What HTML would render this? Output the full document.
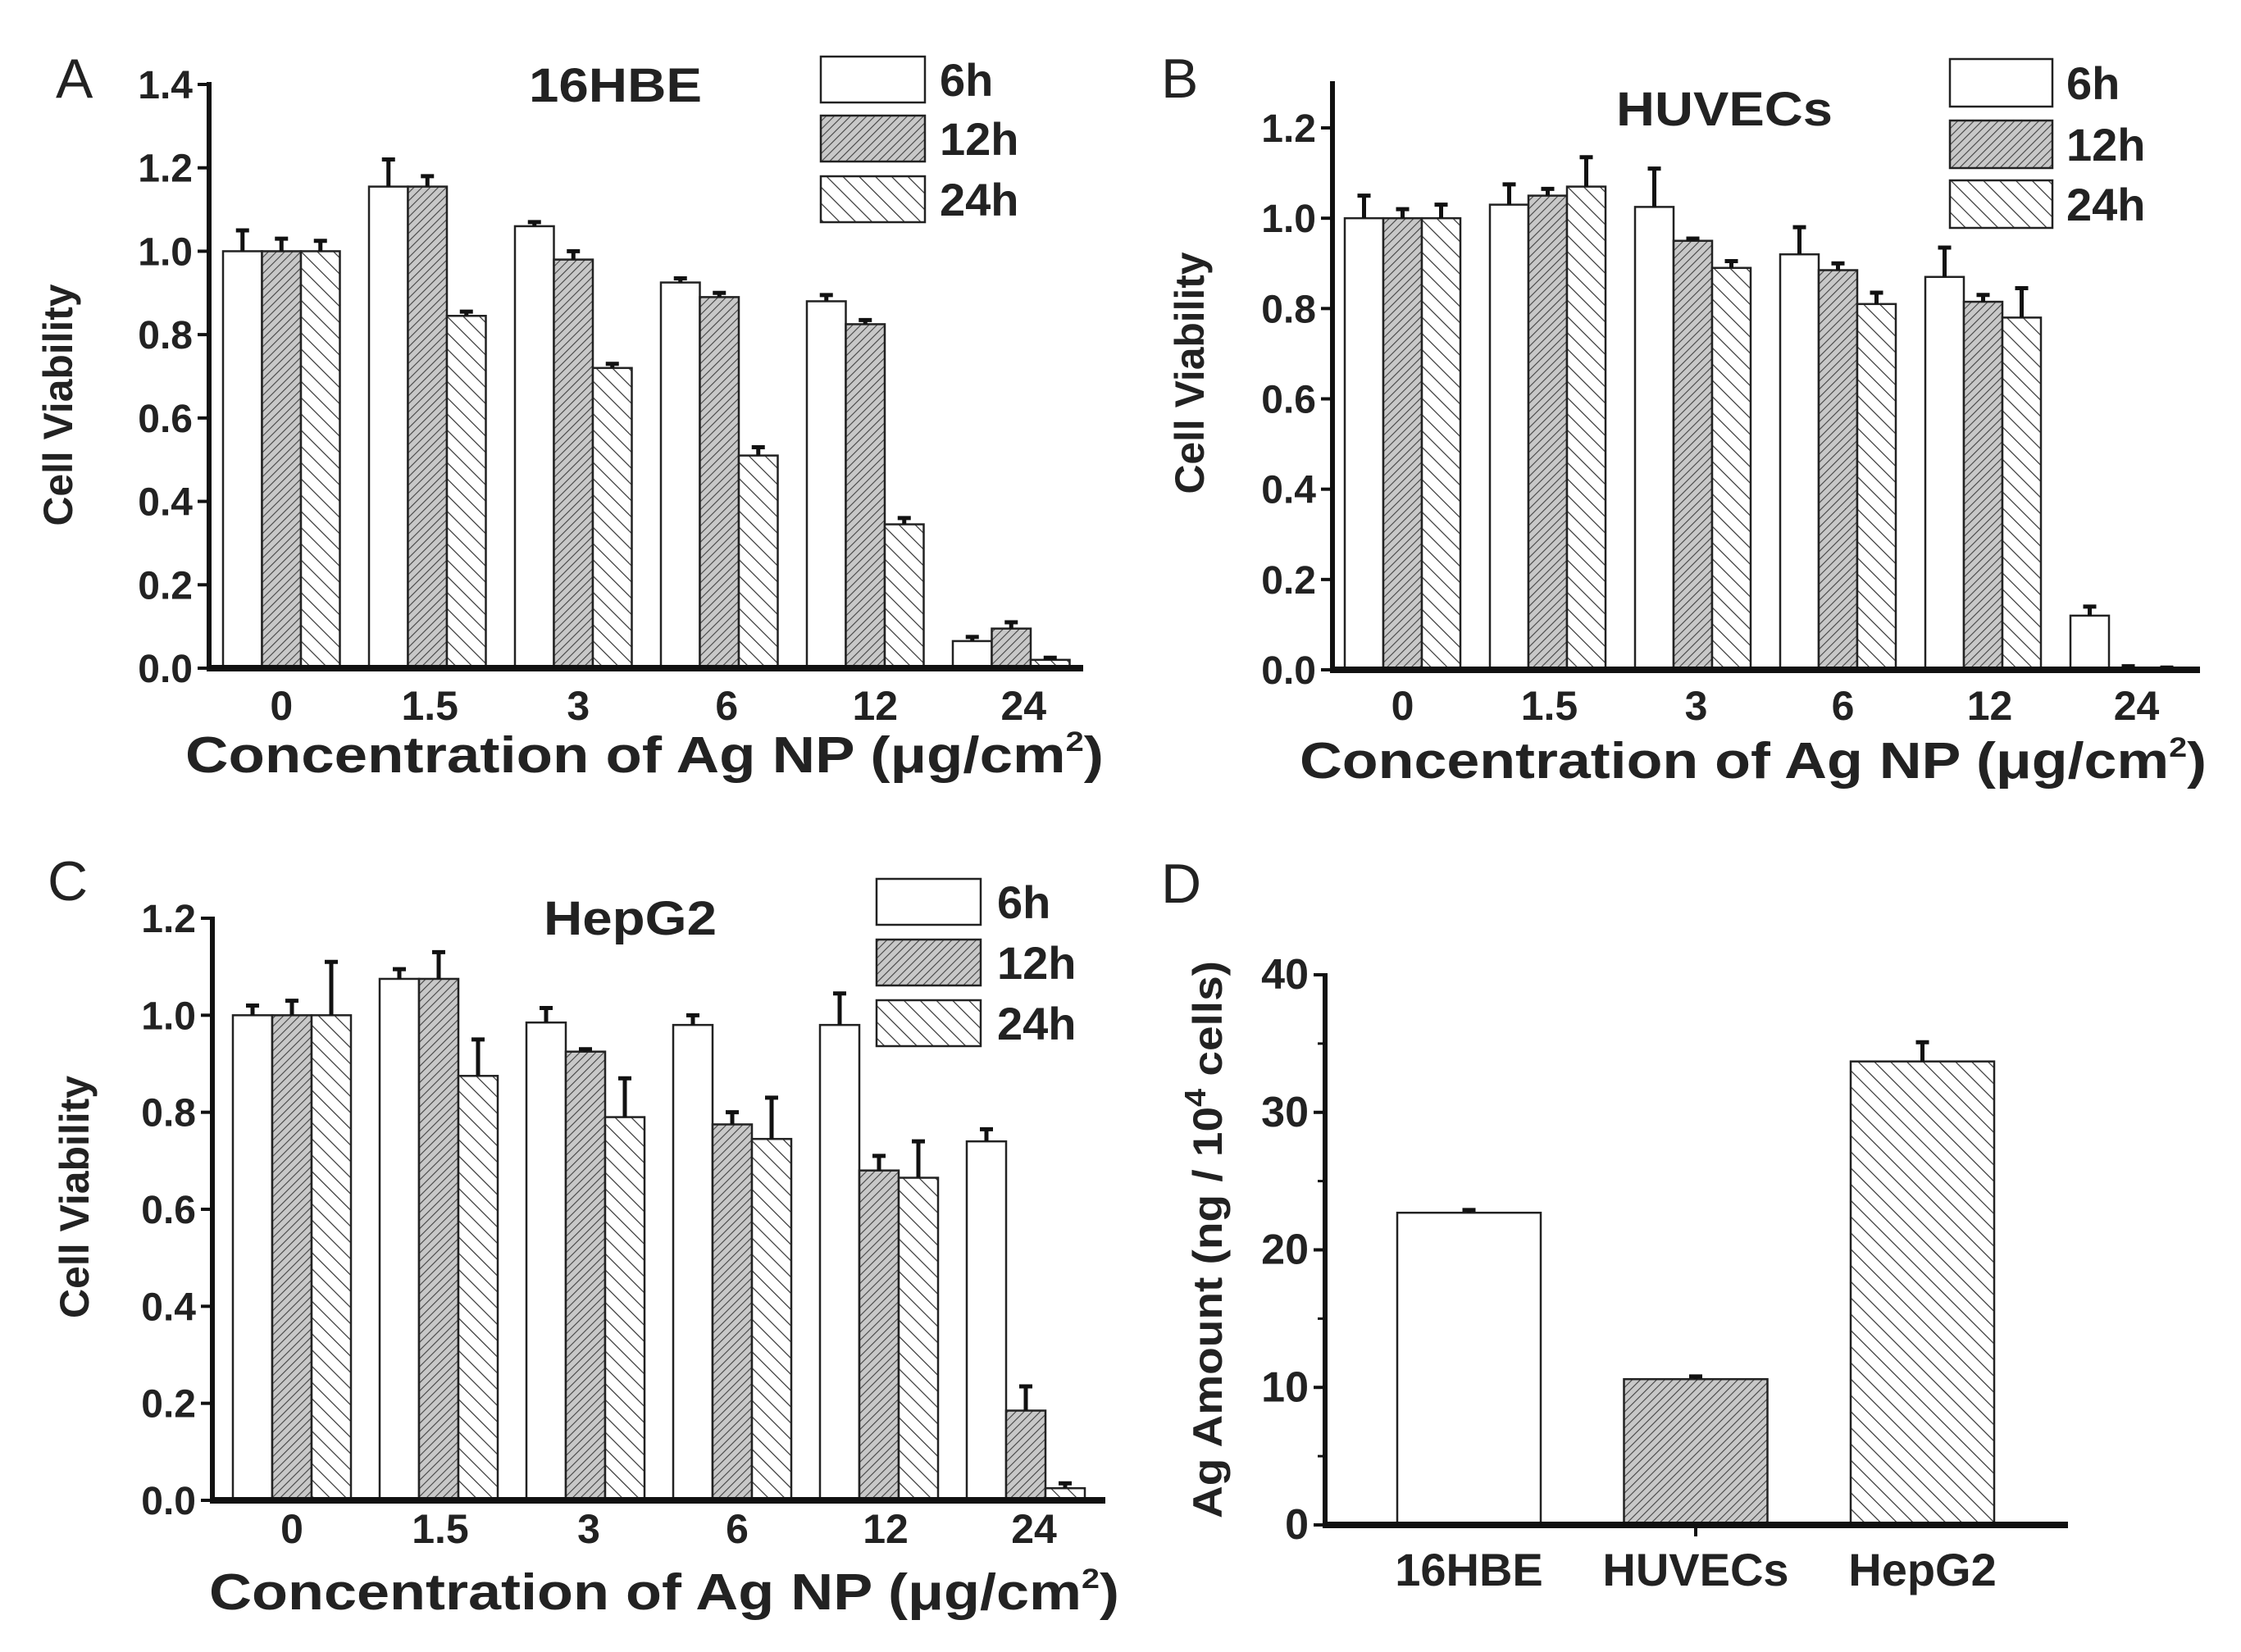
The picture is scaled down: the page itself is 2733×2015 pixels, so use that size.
<!DOCTYPE html>
<html><head><meta charset="utf-8"><style>
html,body{margin:0;padding:0;background:#fff;}
svg{display:block;font-family:"Liberation Sans",Arial,sans-serif;}
</style></head><body>
<svg id="fig" width="2733" height="2015" viewBox="0 0 2733 2015" xmlns="http://www.w3.org/2000/svg">
<defs>
<pattern id="p12" patternUnits="userSpaceOnUse" width="7" height="7" patternTransform="rotate(45)">
<rect width="7" height="7" fill="#c8c8c8"/><line x1="0" y1="0" x2="0" y2="7" stroke="#444" stroke-width="2.2"/></pattern>
<pattern id="p24" patternUnits="userSpaceOnUse" width="14" height="14" patternTransform="rotate(-45)">
<rect width="14" height="14" fill="#fff"/><line x1="0" y1="0" x2="0" y2="14" stroke="#333" stroke-width="2.4"/></pattern>
</defs>
</svg>
<script>
const concLabels = ["0","1.5","3","6","12","24"];
const seriesNames = ["6h","12h","24h"];
const aV6 = [1.0,1.155,1.06,0.925,0.88,0.065];
const aE6 = [0.05,0.065,0.01,0.01,0.015,0.01];
const aV12 = [1.0,1.155,0.98,0.89,0.825,0.095];
const aE12 = [0.03,0.025,0.02,0.01,0.01,0.015];
const aV24 = [1.0,0.845,0.72,0.51,0.345,0.02];
const aE24 = [0.025,0.01,0.01,0.02,0.015,0.005];
const bV6 = [1.0,1.03,1.025,0.92,0.87,0.12];
const bE6 = [0.05,0.045,0.085,0.06,0.065,0.02];
const bV12 = [1.0,1.05,0.95,0.885,0.815,0.005];
const bE12 = [0.02,0.015,0.005,0.015,0.015,0.003];
const bV24 = [1.0,1.07,0.89,0.81,0.78,0.003];
const bE24 = [0.03,0.065,0.015,0.025,0.065,0.002];
const cV6 = [1.0,1.075,0.985,0.98,0.98,0.74];
const cE6 = [0.02,0.02,0.03,0.02,0.065,0.025];
const cV12 = [1.0,1.075,0.925,0.775,0.68,0.185];
const cE12 = [0.03,0.055,0.005,0.025,0.03,0.05];
const cV24 = [1.0,0.875,0.79,0.745,0.665,0.025];
const cE24 = [0.11,0.075,0.08,0.085,0.075,0.01];
const aTicks = ["0.0","0.2","0.4","0.6","0.8","1.0","1.2","1.4"];
const bTicks = ["0.0","0.2","0.4","0.6","0.8","1.0","1.2"];
const cTicks = ["0.0","0.2","0.4","0.6","0.8","1.0","1.2"];
const dCats = ["16HBE","HUVECs","HepG2"];
const dVals = [22.7,10.6,33.7];
const dErrs = [0.2,0.2,1.4];
const dTicks = ["0","10","20","30","40"];

const svg = document.getElementById('fig');
const NS = 'http://www.w3.org/2000/svg';
const fills = ['#fff','url(#p12)','url(#p24)'];
function mk(tag, attrs, parent){const e=document.createElementNS(NS,tag);for(const k in attrs)e.setAttribute(k,attrs[k]);(parent||svg).appendChild(e);return e;}
function txt(s, attrs, parent){const e=mk('text',attrs,parent);e.textContent=s;return e;}

function panel(cfg){
  const g=mk('g',{});
  
  
  const y=v=>cfg.y0-(v/cfg.ymax)*(cfg.y0-cfg.ytop);
  const ya=mk('line',{x1:cfg.ax,y1:cfg.yaxTop,x2:cfg.ax,y2:cfg.y0+3,stroke:'#111','stroke-width':6},g);
  
  
  cfg.ticks.forEach((t,i)=>{
    const v=parseFloat(t), yy=y(v);
    mk('line',{x1:cfg.ax-14,y1:yy,x2:cfg.ax,y2:yy,stroke:'#111','stroke-width':4},g);
    const tl=txt(t,{x:cfg.ax-20,y:yy+17,'text-anchor':'end','font-size':cfg.tickFont||48,'font-weight':'bold',fill:'#222'},g);
    
    
    if(cfg.minor && i<cfg.ticks.length-1){const mv=v+cfg.minor; mk('line',{x1:cfg.ax-9,y1:y(mv),x2:cfg.ax,y2:y(mv),stroke:'#111','stroke-width':3},g);}
  });
  cfg.series.forEach((s,si)=>{
    s.vals.forEach((v,ci)=>{
      const bx = cfg.single? cfg.gx0+ci*cfg.step : cfg.gx0+ci*cfg.step+si*cfg.bw;
      const fill = cfg.single? fills[ci] : fills[si];
      const e=s.errs[ci], top=y(v), et=y(v+e);
      const r=mk('rect',{x:bx,y:top,width:cfg.bw,height:Math.max(0,cfg.y0-top),fill:fill,stroke:'#222','stroke-width':2.5},g);
      
      
      const cx=bx+cfg.bw/2;
      const eb=mk('path',{d:`M${cx} ${top} V${et} M${cx-8} ${et} H${cx+8}`,stroke:'#111','stroke-width':5,fill:'none'},g);
      
      
    });
  });
  const xa=mk('line',{x1:cfg.ax-3,y1:cfg.y0,x2:cfg.xend,y2:cfg.y0,stroke:'#111','stroke-width':8},g);
  
  
  cfg.cats.forEach((c,ci)=>{
    const cx = cfg.single? cfg.gx0+ci*cfg.step+cfg.bw/2 : cfg.gx0+ci*cfg.step+1.5*cfg.bw + ci*cfg.lblShift;
    const tl=txt(c,{x:cx,y:cfg.xlY,'text-anchor':'middle','font-size':cfg.catFont||50,'font-weight':'bold',fill:'#222'},g);
    
    
  });
  if(cfg.midTick){mk('line',{x1:cfg.midTick,y1:cfg.y0,x2:cfg.midTick,y2:cfg.y0+14,stroke:'#111','stroke-width':4},g);}
  const L=txt(cfg.letter,{x:cfg.lx,y:cfg.ly,'font-size':68,fill:'#222'},g);
  
  
  if(cfg.title){const t=txt(cfg.title[0],{x:cfg.title[1],y:cfg.title[2],'font-size':58,'font-weight':'bold',fill:'#222',textLength:cfg.title[3],lengthAdjust:'spacingAndGlyphs'},g);
    
    }
  const yt=txt(cfg.ytitle,{x:0,y:0,'font-size':50,'font-weight':'bold',fill:'#222','text-anchor':'middle',transform:`translate(${cfg.ytx},${cfg.yty}) rotate(-90)`,textLength:cfg.ytLen,lengthAdjust:'spacingAndGlyphs'},g);
  
  
  if(cfg.yt4){yt.textContent='';yt.innerHTML='Ag Amount (ng / 10<tspan dy="-20" font-size="36">4</tspan><tspan dy="20"> cells)</tspan>';}
  if(cfg.xtitle){const xt=txt('',{x:cfg.xtitle[0],y:cfg.xtitle[1],'font-size':62,'font-weight':'bold',fill:'#222',textLength:cfg.xtitle[2],lengthAdjust:'spacingAndGlyphs'},g);
    xt.innerHTML='Concentration of Ag NP (μg/cm<tspan dy="-26" font-size="34">2</tspan><tspan dy="26">)</tspan>';
    
    }
  if(cfg.leg){
    seriesNames.forEach((n,i)=>{
      const lg=mk('g',{},g);
      
      
      const ly=cfg.leg.ys[i];
      mk('rect',{x:cfg.leg.x,y:ly,width:cfg.leg.w,height:cfg.leg.h,fill:fills[i],stroke:'#222','stroke-width':2.5},lg);
      txt(n,{x:cfg.leg.tx,y:ly+cfg.leg.h/2+20,'font-size':56,'font-weight':'bold',fill:'#222'},lg);
    });
  }
}

panel({name:'panel-a-16hbe',ax:255,y0:815,ytop:103,ymax:1.4,yaxTop:100,xend:1321,ticks:aTicks,
  series:[{vals:aV6,errs:aE6},{vals:aV12,errs:aE12},{vals:aV24,errs:aE24}],
  gx0:272,step:178,bw:47.5,cats:concLabels,xlY:878,lblShift:3,letter:'A',lx:68,ly:119,
  title:['16HBE',645,124,211],ytitle:'Cell Viability',ytx:88,yty:494,ytLen:295,xtitle:[226,942,1120],
  leg:{x:1001,w:127,h:56,ys:[69,141,215],tx:1146}});
panel({name:'panel-b-huvecs',ax:1625,y0:817,ytop:156,ymax:1.2,yaxTop:99,xend:2683,ticks:bTicks,
  series:[{vals:bV6,errs:bE6},{vals:bV12,errs:bE12},{vals:bV24,errs:bE24}],
  gx0:1640,step:177,bw:47,cats:concLabels,xlY:878,lblShift:2,letter:'B',lx:1416,ly:119,
  title:['HUVECs',1971,153,264],ytitle:'Cell Viability',ytx:1468,yty:455,ytLen:295,xtitle:[1585,949,1106],
  leg:{x:2378,w:125,h:58,ys:[72,147,220],tx:2520}});
panel({name:'panel-c-hepg2',ax:259,y0:1830,ytop:1120,ymax:1.2,yaxTop:1118,xend:1348,ticks:cTicks,
  series:[{vals:cV6,errs:cE6},{vals:cV12,errs:cE12},{vals:cV24,errs:cE24}],
  gx0:284,step:179,bw:48,cats:concLabels,xlY:1882,lblShift:2,letter:'C',lx:58,ly:1098,
  title:['HepG2',663,1140,211],ytitle:'Cell Viability',ytx:108,yty:1460,ytLen:296,xtitle:[255,1963,1110],
  leg:{x:1069,w:127,h:56,ys:[1072,1146,1220],tx:1216}});
panel({name:'panel-d-ag-amount',ax:1616,y0:1860,ytop:1189,ymax:40,yaxTop:1187,xend:2522,ticks:dTicks,minor:5,tickFont:52,
  series:[{vals:dVals,errs:dErrs}],single:true,midTick:2068,
  gx0:1704,step:276.5,bw:175,cats:dCats,catFont:56,xlY:1934,lblShift:0,letter:'D',lx:1416,ly:1101,
  ytitle:'Ag Amount (ng / 10 4 cells)',yt4:true,ytx:1490,yty:1512,ytLen:680});
</script>
</body></html>
